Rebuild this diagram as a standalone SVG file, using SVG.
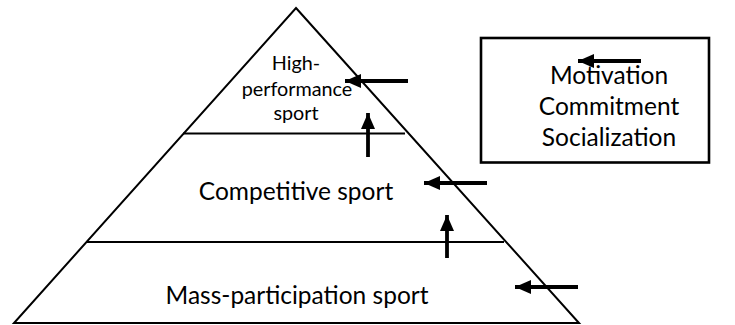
<svg xmlns="http://www.w3.org/2000/svg" width="735" height="325" viewBox="0 0 735 325">
  <defs>
    <style>
      .edge { fill: none; stroke: #000; stroke-width: 2; }
      .lbl { font-family: Lato, "Open Sans", "Liberation Sans", sans-serif; fill: #000; text-anchor: middle; }
      .big { font-size: 24.5px; }
      .small { font-size: 19.8px; }
      .box { font-size: 24.5px; }
      .arrow { stroke: #000; stroke-width: 3.8; fill: none; marker-end: url(#head); }
    </style>
    <marker id="head" markerUnits="userSpaceOnUse" markerWidth="18" markerHeight="16" refX="16" refY="7" orient="auto">
      <path d="M0,0 L16,7 L0,14 Z" fill="#000"/>
    </marker>
  </defs>
  <rect width="735" height="325" fill="#fff"/>

  <g id="pyramid">
    <polygon class="edge" points="296,8 579,323 14,323"/>
  </g>

  <g id="high-performance">
    <line class="edge" x1="183" y1="133.5" x2="405" y2="133.5"/>
    <text class="lbl small" x="296" y="70">High-</text>
    <text class="lbl small" x="297" y="96">performance</text>
    <text class="lbl small" x="296" y="120">sport</text>
  </g>

  <g id="competitive">
    <line class="edge" x1="87" y1="242" x2="504" y2="242"/>
    <text class="lbl big" x="296" y="200">Competitive sport</text>
  </g>

  <g id="mass-participation">
    <text class="lbl big" x="297" y="304">Mass-participation sport</text>
  </g>

  <g id="factors">
    <rect x="481" y="38" width="228" height="124.5" fill="none" stroke="#000" stroke-width="2.6"/>
    <text class="lbl box" x="609" y="84">Motivation</text>
    <text class="lbl box" x="609" y="115">Commitment</text>
    <text class="lbl box" x="609" y="146">Socialization</text>
  </g>

  <g id="connectors">
    <line class="arrow" x1="408" y1="81" x2="345" y2="81"/>
    <line class="arrow" x1="368" y1="157" x2="368" y2="113"/>
    <line class="arrow" stroke-width="3.3" x1="641" y1="61" x2="578" y2="61"/>
    <line class="arrow" x1="487" y1="183" x2="424" y2="183"/>
    <line class="arrow" x1="447" y1="258" x2="447" y2="215"/>
    <line class="arrow" x1="578" y1="287" x2="515" y2="287"/>
  </g>
</svg>
